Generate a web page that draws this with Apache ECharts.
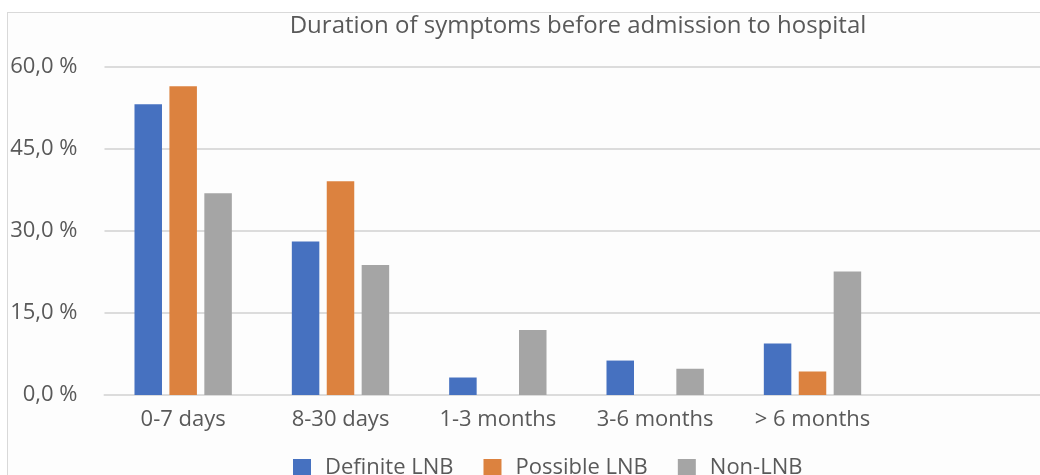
<!DOCTYPE html>
<html>
<head>
<meta charset="utf-8">
<script src="https://cdn.jsdelivr.net/npm/echarts@6/dist/echarts.min.js"></script>
<style>
  html, body { margin: 0; padding: 0; background: #ffffff; overflow: hidden; }
  #frame { position: absolute; left: 7px; top: 12px; width: 1100px; height: 520px;
           border: 1px solid #d9d9d9; background: #fdfdfd; }
  #chart { position: absolute; left: 0; top: 0; width: 1040px; height: 475px; }
</style>
</head>
<body>
<div id="frame"></div>
<div id="chart"></div>
<script>
// data
const categories = ['0-7 days', '8-30 days', '1-3 months', '3-6 months', '> 6 months', '']
const definiteLNB = [53.2, 28.1, 3.2, 6.3, 9.4]
const possibleLNB = [56.5, 39.1, null, null, 4.3]
const nonLNB = [36.9, 23.8, 11.9, 4.8, 22.6]
const yTicks = { min: 0, max: 60, interval: 15 }

const textColor = '#595959'
const gridColor = '#dcdcdc'
const font = '"Open Sans", sans-serif'

const chart = echarts.init(document.getElementById('chart'))

function barSeries(name, data, color) {
  return {
    name: name,
    type: 'bar',
    data: data,
    barWidth: 27.5,
    barGap: '27%',
    itemStyle: { color: color },
  }
}

const option = {
  backgroundColor: 'transparent',
  animation: false,
  title: {
    text: 'Duration of symptoms before admission to hospital',
    left: 573,
    textAlign: 'center',
    top: 9,
    textStyle: {
      color: textColor,
      fontFamily: font,
      fontSize: 24,
      fontWeight: 'normal',
    },
  },
  legend: {
    left: 293,
    top: 457,
    padding: 0,
    itemWidth: 18,
    itemHeight: 18,
    itemGap: 30,
    icon: 'rect',
    textStyle: {
      color: textColor,
      fontFamily: font,
      fontSize: 22,
      padding: [0, 0, 0, 9],
    },
    data: ['Definite LNB', 'Possible LNB', 'Non-LNB'],
  },
  grid: {
    left: 104.5,
    width: 944,
    top: 67,
    bottom: 80,
    containLabel: false,
    outerBoundsMode: 'none',
  },
  xAxis: {
    type: 'category',
    data: categories,
    axisLine: { lineStyle: { color: gridColor, width: 2 } },
    axisTick: { show: false },
    axisLabel: {
      color: textColor,
      fontFamily: font,
      fontSize: 22,
      margin: 14,
    },
  },
  yAxis: {
    type: 'value',
    min: yTicks.min,
    max: yTicks.max,
    interval: yTicks.interval,
    axisLine: { show: false },
    axisTick: { show: false },
    splitLine: { lineStyle: { color: gridColor, width: 2 } },
    axisLabel: {
      color: textColor,
      fontFamily: font,
      fontSize: 22,
      margin: 27,
      formatter: (v) => v.toFixed(1).replace('.', ',') + ' %',
    },
  },
  series: [
    barSeries('Definite LNB', definiteLNB, '#4671C0'),
    barSeries('Possible LNB', possibleLNB, '#DC823F'),
    barSeries('Non-LNB', nonLNB, '#A5A5A5'),
  ],
}

chart.setOption(option)
</script>
</body>
</html>
